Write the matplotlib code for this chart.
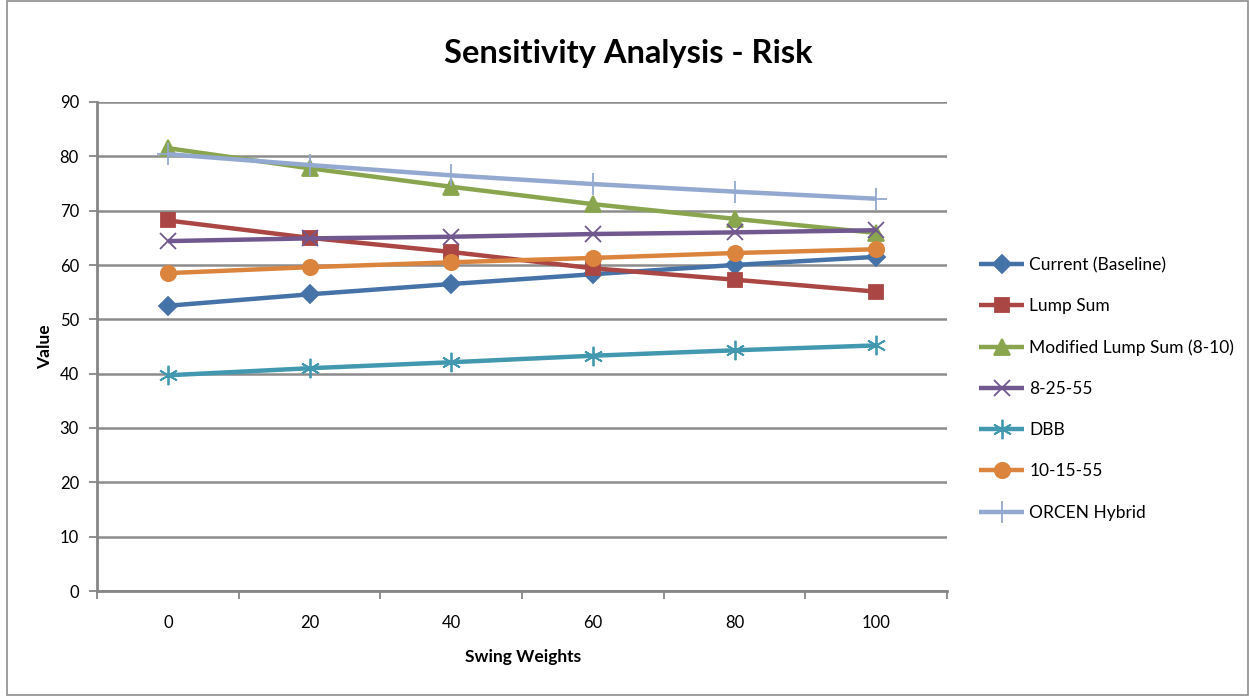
import numpy as np
import matplotlib.pyplot as plt
from matplotlib.patches import Rectangle

weights = [0, 20, 40, 60, 80, 100]

current = [52.5, 54.6, 56.5, 58.3, 60.0, 61.5]
lump_sum = [68.2, 65.0, 62.4, 59.4, 57.3, 55.1]
modified_lump = [81.5, 77.8, 74.4, 71.2, 68.5, 65.9]
plan_8_25_55 = [64.4, 64.9, 65.2, 65.7, 66.0, 66.4]
dbb = [39.7, 41.0, 42.1, 43.3, 44.3, 45.2]
plan_10_15_55 = [58.5, 59.6, 60.5, 61.3, 62.2, 62.9]
orcen = [80.4, 78.4, 76.5, 74.9, 73.5, 72.2]

series_names = ["Current (Baseline)", "Lump Sum", "Modified Lump Sum (8-10)",
                "8-25-55", "DBB", "10-15-55", "ORCEN Hybrid"]

plt.rcParams['font.family'] = ['Lato', 'DejaVu Sans']

fig = plt.figure(figsize=(12.49, 6.96), dpi=100)
W, H = 1249, 696
ax = fig.add_axes([97 / W, 1 - 591 / H, (947 - 97) / W, (591 - 102) / H])

# outer chart border like the excel chart area
fig.patches.append(Rectangle((7 / W, 1 / H), 1 - 8 / W, 1 - 2 / H, transform=fig.transFigure,
                             fill=False, edgecolor='#8c8c8c', linewidth=1.2))

styles = [
    (current, '#4572A7', 'D', 9.5),
    (lump_sum, '#AA4643', 's', 10),
    (modified_lump, '#89A54E', '^', 11),
    (plan_8_25_55, '#71588F', 'x', 11),
    (dbb, '#4198AF', (6, 2, 0), 14),
    (plan_10_15_55, '#DB843D', 'o', 11),
    (orcen, '#93A9CF', '+', 16),
]

for (vals, color, marker, ms), name in zip(styles, series_names):
    ax.plot(weights, vals, color=color, linewidth=3.2, marker=marker, markersize=ms,
            markeredgecolor=color, markerfacecolor=color, markeredgewidth=1.3,
            label=name, solid_capstyle='butt')

ax.set_xlim(-10, 110)
ax.set_ylim(0, 90)
ax.set_yticks(np.arange(0, 91, 10))
ax.set_xticks(weights)
ax.set_xticks(np.arange(-10, 111, 20), minor=True)
ax.tick_params(axis='x', which='major', length=0, pad=17, labelsize=12)
ax.tick_params(axis='x', which='minor', length=6, width=1.3, color='#868686', direction='out')
ax.tick_params(axis='y', length=6, width=1.3, color='#868686', labelsize=12, pad=7)

ax.grid(axis='y', color='#8c8c8c', linewidth=1.8)
ax.set_axisbelow(True)
for side in ['top', 'right']:
    ax.spines[side].set_visible(False)
for side in ['left', 'bottom']:
    ax.spines[side].set_color('#868686')
    ax.spines[side].set_linewidth(2)

fig.text(523 / W, 1 - 657 / H, "Swing Weights", fontsize=12.5, fontweight='bold',
         ha='center', va='center')
fig.text(45 / W, 1 - 347 / H, "Value", fontsize=12.5, fontweight='bold',
         ha='center', va='center', rotation=90)

fig.text(628 / W, 1 - 53 / H, "Sensitivity Analysis - Risk", fontsize=23.5, fontweight='bold',
         ha='center', va='center')

leg = fig.legend(loc='upper left', bbox_to_anchor=(972 / W, 1 - 250 / H), frameon=False,
                 fontsize=12.5, handlelength=2.6, labelspacing=1.45, handletextpad=0.3,
                 borderaxespad=0)

fig.savefig('out.png', dpi=100)
